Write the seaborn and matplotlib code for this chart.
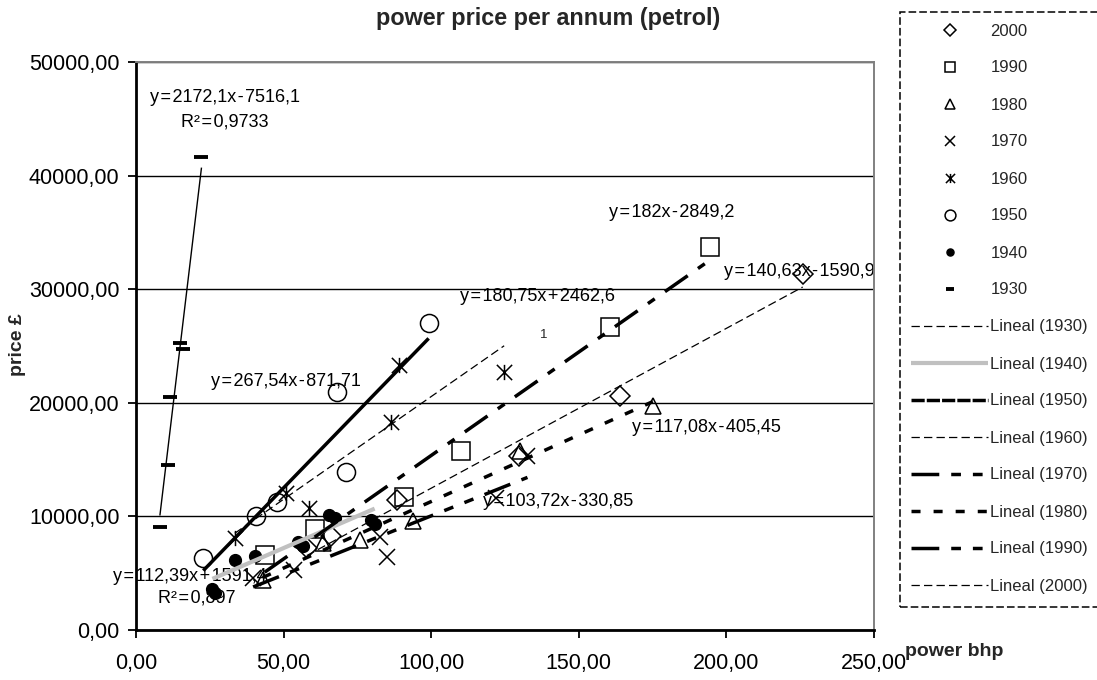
import numpy as np
import matplotlib
matplotlib.use("Agg")
import matplotlib.pyplot as plt
import seaborn as sns
from matplotlib.path import Path
from matplotlib.lines import Line2D
from matplotlib.patches import Rectangle

# ---------------- data ----------------
x1930 = [8.1, 10.9, 11.5, 14.9, 16.0, 22.2]
y1930 = [9090, 14520, 20480, 25230, 24730, 41600]
x1940 = [25.9, 26.7, 33.5, 40.3, 54.9, 56.6, 65.4, 67.3, 79.7, 80.9]
y1940 = [3580, 3230, 6160, 6510, 7770, 7390, 10120, 9830, 9680, 9330]
x1950 = [22.8, 40.6, 47.8, 68.1, 71.3, 99.2]
y1950 = [6360, 10060, 11290, 20970, 13930, 27040]
x1960 = [33.5, 51.0, 58.6, 86.3, 89.1, 124.8]
y1960 = [8070, 12030, 10710, 18330, 23320, 22730]
x1970 = [39.7, 53.5, 82.8, 85.2, 122.0, 132.7]
y1970 = [4550, 5300, 8210, 6450, 11590, 15300]
x1980 = [42.9, 63.5, 75.9, 94.0, 130.0, 175.2]
y1980 = [4400, 7630, 7880, 9600, 15800, 19710]
x1990 = [43.6, 60.6, 91.0, 110.2, 160.7, 194.5]
y1990 = [6600, 8900, 11730, 15770, 26690, 33680]
x2000 = [57.9, 66.2, 88.5, 129.9, 163.9, 226.0]
y2000 = [7190, 8300, 11440, 15280, 20560, 31330]

years = ["1930", "1940", "1950", "1960", "1970", "1980", "1990", "2000"]
slopes = [2172.1, 112.39, 267.54, 180.75, 103.72, 117.08, 182.0, 140.63]
intercepts = [-7516.1, 1591.4, -871.71, 2462.6, -330.85, -405.45, -2849.2, -1590.9]

x_ticks = [0, 50, 100, 150, 200, 250]
x_tick_labels = ["0,00", "50,00", "100,00", "150,00", "200,00", "250,00"]
y_ticks = [0, 10000, 20000, 30000, 40000, 50000]
y_tick_labels = ["0,00", "10000,00", "20000,00", "30000,00", "40000,00", "50000,00"]

S = "\u200a"  # narrow spacing as in the Excel rendering
eq_texts = {
    "1930": f"y{S}={S}2172,1x{S}-{S}7516,1",
    "1930r": f"R²{S}={S}0,9733",
    "1940": f"y{S}={S}112,39x{S}+{S}1591,4",
    "1940r": f"R²{S}={S}0,897",
    "1950": f"y{S}={S}267,54x{S}-{S}871,71",
    "1960": f"y{S}={S}180,75x{S}+{S}2462,6",
    "1970": f"y{S}={S}103,72x{S}-{S}330,85",
    "1980": f"y{S}={S}117,08x{S}-{S}405,45",
    "1990": f"y{S}={S}182x{S}-{S}2849,2",
    "2000": f"y{S}={S}140,63x{S}-{S}1590,9",
}

series = {
    "1930": (x1930, y1930), "1940": (x1940, y1940), "1950": (x1950, y1950),
    "1960": (x1960, y1960), "1970": (x1970, y1970), "1980": (x1980, y1980),
    "1990": (x1990, y1990), "2000": (x2000, y2000),
}

# ---------------- styling ----------------
W, H = 1097, 680
sns.set_theme(style="white")
plt.rcParams["font.family"] = ["Liberation Sans", "DejaVu Sans"]
plt.rcParams["lines.scale_dashes"] = False

ast = Path([(-1, -1), (1, 1), (-1, 1), (1, -1), (0, -1), (0, 1)],
           [Path.MOVETO, Path.LINETO] * 3)

marker_style = {
    "1930": dict(marker="_", markersize=10.5, markeredgewidth=2.8),
    "1940": dict(marker="o", markersize=8.5, markeredgewidth=1.0, markerfacecolor="black"),
    "1950": dict(marker="o", markersize=13, markeredgewidth=1.1, markerfacecolor="none"),
    "1960": dict(marker=ast, markersize=11, markeredgewidth=1.1, markerfacecolor="none"),
    "1970": dict(marker="x", markersize=11, markeredgewidth=1.1),
    "1980": dict(marker="^", markersize=11, markeredgewidth=1.1, markerfacecolor="none"),
    "1990": dict(marker="s", markersize=13, markeredgewidth=1.1, markerfacecolor="none"),
    "2000": dict(marker="D", markersize=10, markeredgewidth=1.1, markerfacecolor="none"),
}
line_style = {
    "1930": dict(color="black", linewidth=1.0, linestyle="-"),
    "1940": dict(color="#c0c0c0", linewidth=3.0, linestyle="-"),
    "1950": dict(color="black", linewidth=2.5, linestyle="-"),
    "1960": dict(color="black", linewidth=0.9, linestyle=(0, (6, 3))),
    "1970": dict(color="black", linewidth=2.5, linestyle=(0, (20, 8.6, 7, 8.6, 7, 8.6))),
    "1980": dict(color="black", linewidth=2.5, linestyle=(0, (6.5, 9.4))),
    "1990": dict(color="black", linewidth=2.5, linestyle=(0, (20, 9, 6, 9))),
    "2000": dict(color="black", linewidth=0.9, linestyle=(0, (6, 3))),
}
legend_line_style = dict(line_style)
legend_line_style["1930"] = dict(color="black", linewidth=0.9, linestyle=(0, (6, 3)))
legend_line_style["1950"] = dict(color="black", linewidth=2.5, linestyle=(0, (9.5, 1.5)))
legend_line_style["1990"] = line_style["1970"]

fig = plt.figure(figsize=(W / 100, H / 100), dpi=100)
ax = fig.add_axes([136 / W, 1 - 630 / H, (873.5 - 136) / W, (630 - 62) / H])

def px2data(px, py):
    return (px - 136) / 2.95, (630 - py) * 88.03

# markers
for yr in years:
    xs, ys = series[yr]
    sns.lineplot(x=xs, y=ys, ax=ax, estimator=None, sort=False, linestyle="none",
                 color="black", markeredgecolor="black", zorder=3,
                 **marker_style[yr])

# linear trendlines over each series' x-range
for yr, m, b in zip(years, slopes, intercepts):
    xs = series[yr][0]
    xr = np.array([min(xs), max(xs)])
    ax.plot(xr, m * xr + b, zorder=4, solid_capstyle="butt",
            dash_capstyle="butt", **line_style[yr])

# equation labels (pixel positions converted to data)
eq_pos = {
    "1930": (225, 98), "1930r": (225, 122), "1990": (672, 213),
    "2000": (799, 272), "1960": (537, 297), "1950": (286, 382),
    "1980": (706, 428), "1970": (558, 502), "1940": (190, 577),
    "1940r": (197, 598),
}
for key, (px, py) in eq_pos.items():
    xd, yd = px2data(px, py)
    ax.text(xd, yd, eq_texts[key], ha="center", va="center", fontsize=13,
            color="black", zorder=2.5, clip_on=False)
xd, yd = px2data(544, 335)
ax.text(xd, yd, "1", ha="center", va="center", fontsize=9.5, zorder=2.5)

# axes
ax.set_xlim(0, 250)
ax.set_ylim(0, 50000)
ax.set_xticks(x_ticks)
ax.set_xticklabels(x_tick_labels)
ax.set_yticks(y_ticks)
ax.set_yticklabels(y_tick_labels)
ax.tick_params(axis="both", labelsize=15.5, colors="black", direction="out",
               length=5.5, width=1.3, bottom=True, left=True)
ax.tick_params(axis="y", pad=6.3)
ax.tick_params(axis="x", pad=11)
ax.yaxis.grid(True, color="black", linewidth=1.0, zorder=0)
ax.xaxis.grid(False)
ax.set_axisbelow(True)
for side in ("left", "bottom"):
    ax.spines[side].set_color("black")
    ax.spines[side].set_linewidth(2.0)
for side in ("top", "right"):
    ax.spines[side].set_color("#808080")
    ax.spines[side].set_linewidth(1.4)
ax.set_xlabel("")
ax.set_ylabel("")

# texts
fig.text(548 / W, 1 - 25 / H, "power price per annum (petrol)", ha="center",
         va="baseline", fontsize=16.8, fontweight="bold")
fig.text(18 / W, 1 - 345 / H, "price £", rotation=90, ha="center", va="center",
         fontsize=14, fontweight="bold")
fig.text(905 / W, 1 - 652 / H, "power bhp", ha="left", va="center",
         fontsize=14, fontweight="bold")

# legend
handles, labels = [], []
for yr in years[::-1]:
    ms = dict(marker_style[yr])
    ms["markersize"] = ms["markersize"] * 0.6
    handles.append(Line2D([], [], linestyle="none", color="black",
                          markeredgecolor="black", **ms))
    labels.append(yr)
for yr in years:
    handles.append(Line2D([], [], dash_capstyle="butt", solid_capstyle="butt",
                          **legend_line_style[yr]))
    labels.append(f"Lineal ({yr})")
leg = fig.legend(handles, labels, loc="upper left",
                 bbox_to_anchor=(911 / W, 1 - 23.5 / H), bbox_transform=fig.transFigure,
                 frameon=False, fontsize=12, handlelength=4.62, handletextpad=0.15,
                 labelspacing=1.32, borderpad=0, borderaxespad=0)
rect = Rectangle((900 / W, 1 - 607 / H), (1115 - 900) / W, (607 - 12) / H,
                 transform=fig.transFigure, fill=False, edgecolor="black",
                 linewidth=1.1, linestyle=(0, (5.5, 2.2)))
fig.add_artist(rect)

fig.savefig("out.png", dpi=100)
